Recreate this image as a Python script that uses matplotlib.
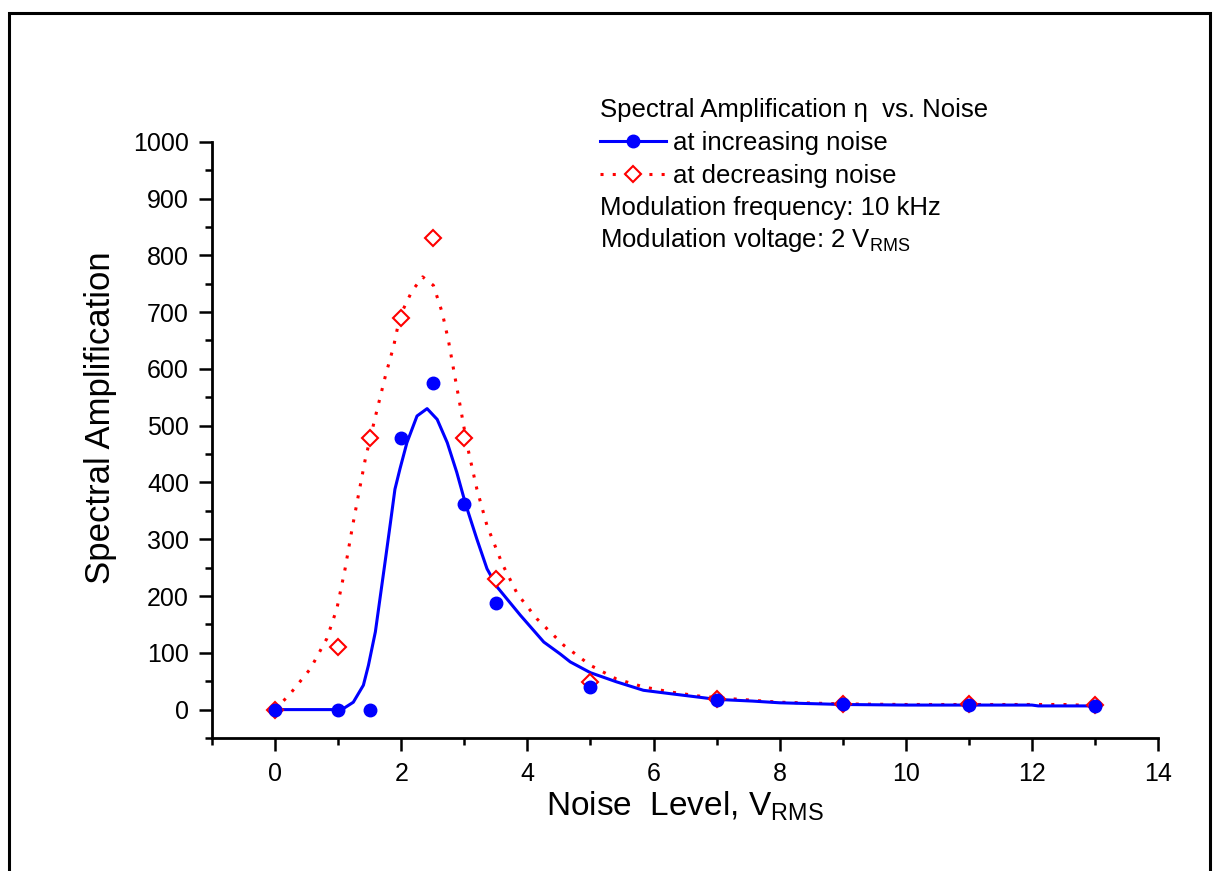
import numpy as np
import matplotlib.pyplot as plt
from matplotlib.lines import Line2D
from matplotlib.patches import Rectangle
from matplotlib.ticker import MultipleLocator

plt.rcParams['font.family'] = ['Liberation Sans', 'DejaVu Sans']

# measured points
noise = [0, 1, 1.5, 2, 2.5, 3, 3.5, 5, 7, 9, 11, 13]
eta_up = [0, 0, 0, 478, 575, 362, 188, 40, 17, 9, 8, 7]
eta_down = [0, 110, 478, 690, 830, 478, 230, 49, 19, 10, 9, 8]

# fitted curves
fit_up_x = [0, 1, 1.1, 1.24, 1.4, 1.48, 1.59, 1.67, 1.75, 1.83, 1.9, 1.98, 2.09, 2.25,
            2.41, 2.57, 2.73, 2.88, 3.02, 3.2, 3.36, 3.52, 3.89, 4.26, 4.52, 4.68, 5.0,
            5.41, 5.84, 6.27, 6.71, 7, 7.57, 8, 9, 10, 12, 12.1, 13]
fit_up_y = [0, 0, 3, 13, 43, 78, 137, 201, 265, 330, 388, 424, 470, 517,
            530, 511, 470, 418, 362, 300, 248, 216, 166, 119, 98, 84, 65,
            49, 34, 28, 22, 18, 15, 12, 9, 8, 8, 6.5, 6.5]
fit_down_x = [0, 0.24, 0.56, 0.82, 0.98, 1.11, 1.22, 1.32, 1.43, 1.53, 1.61, 1.75, 1.88,
              1.98, 2.17, 2.34, 2.51, 2.65, 2.75, 2.83, 2.91, 2.99, 3.07, 3.2, 3.36, 3.6,
              3.84, 4.15, 4.58, 5.0, 5.41, 5.84, 6.27, 6.71, 7, 7.5, 8, 9, 10, 11, 12, 12.5, 13]
fit_down_y = [0, 28, 72, 125, 178, 248, 318, 377, 441, 488, 525, 588, 640,
              693, 737, 762, 747, 699, 649, 599, 550, 500, 453, 388, 324, 257,
              204, 160, 113, 78, 54, 40, 31, 24, 21, 17, 13, 10, 9, 9, 9, 9, 7]

fig = plt.figure(figsize=(12.13, 8.71), dpi=100)
ax = fig.add_axes([0.1748, 0.1527, 0.7799, 0.6846])

ax.plot(fit_down_x, fit_down_y, color='red', lw=2.2, ls=(0, (1, 3)), zorder=2)
ax.plot(fit_up_x, fit_up_y, color='blue', lw=2.2, zorder=3)
ax.plot(noise, eta_down, ls='none', marker='D', ms=8, mfc='white', mec='red', mew=1.5, zorder=4)
ax.plot(noise, eta_up, ls='none', marker='o', ms=9, color='blue', zorder=5)

ax.set_xlim(-1, 14)
ax.set_ylim(-50, 1000)
ax.xaxis.set_major_locator(MultipleLocator(2))
ax.xaxis.set_minor_locator(MultipleLocator(1))
ax.yaxis.set_major_locator(MultipleLocator(100))
ax.yaxis.set_minor_locator(MultipleLocator(50))
ax.spines['top'].set_visible(False)
ax.spines['right'].set_visible(False)
for s in ['left', 'bottom']:
    ax.spines[s].set_linewidth(2)
ax.tick_params(which='major', direction='out', length=9.5, width=1.8, labelsize=18, pad=7)
ax.tick_params(axis='x', which='major', pad=8)
ax.tick_params(which='minor', direction='out', length=5, width=1.8)

ax.set_ylabel('Spectral Amplification', fontsize=25)
ax.yaxis.set_label_coords(-0.100, 0.537)
ax.set_xlabel(r'Noise  Level, V$\mathregular{_{RMS}}$', fontsize=24)
ax.xaxis.set_label_coords(0.5, -0.087)

h_up = Line2D([], [], color='blue', lw=2.2, marker='o', ms=9)
h_down = Line2D([], [], color='red', lw=2.2, ls=(0, (1, 3)), marker='D', ms=8,
                mfc='white', mec='red', mew=1.5)
fig.legend([h_up, h_down], ['at increasing noise', 'at decreasing noise'],
           loc='upper left', bbox_to_anchor=(600 / 1213, 1 - 131 / 871),
           frameon=False, fontsize=18.5, handlelength=2.55, handletextpad=0.3,
           labelspacing=0.34, borderpad=0, borderaxespad=0, numpoints=1)

fig.text(600 / 1213, 1 - 110 / 871, 'Spectral Amplification η  vs. Noise', fontsize=18.5, va='center')
fig.text(600 / 1213, 1 - 208 / 871, 'Modulation frequency: 10 kHz', fontsize=18.5, va='center')
fig.text(600 / 1213, 1 - 240 / 871, r'Modulation voltage: 2 V$\mathregular{_{RMS}}$', fontsize=18.5, va='center')

# outer frame
fig.patches.append(Rectangle((9 / 1213, -0.01), 1201 / 1213, 1 - 13 / 871 + 0.01,
                             transform=fig.transFigure, fill=False, lw=2.2, ec='black'))

fig.savefig('out.png', dpi=100)
